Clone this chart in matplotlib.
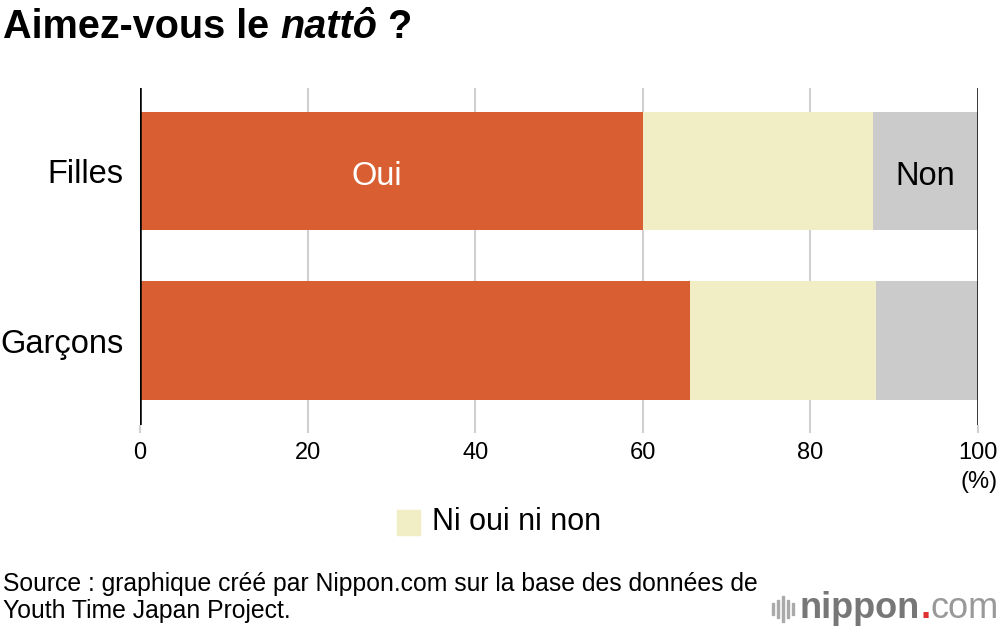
import numpy as np
import matplotlib.pyplot as plt
from matplotlib.patches import Rectangle

plt.rcParams['font.family'] = ['Liberation Sans', 'DejaVu Sans']

# data (percent)
groups = ['Garçons', 'Filles']
oui = [65.6, 60.0]
neutre = [22.2, 27.5]
non = [12.2, 12.5]
ticks = [0, 20, 40, 60, 80, 100]

c_oui = '#d95f32'
c_neutre = '#f1eec5'
c_non = '#cbcbcb'

fig = plt.figure(figsize=(10, 6.32), dpi=100)
ax = fig.add_axes([0.14, 0.327, 0.838, 0.534])

y = np.arange(len(groups))
left2 = np.array(oui) + np.array(neutre)
ax.barh(y, oui, height=0.70, color=c_oui, zorder=2)
ax.barh(y, neutre, left=oui, height=0.70, color=c_neutre, zorder=2)
ax.barh(y, non, left=left2, height=0.70, color=c_non, zorder=2)

ax.set_xlim(0, 100)
ax.set_ylim(-0.5, 1.49)
for t in ticks[1:-1]:
    ax.axvline(t, color='#d0d0d0', linewidth=1.5, zorder=1)
ax.axvline(0, color='black', linewidth=1.8, zorder=3)
ax.axvline(100, color='black', linewidth=1.8, zorder=3)

for s in ax.spines.values():
    s.set_visible(False)
ax.set_xticks(ticks)
ax.set_xticklabels([str(t) for t in ticks], fontsize=17)
ax.tick_params(axis='x', length=6, color='#d0d0d0', width=1.5, pad=6)
for i, tk in enumerate(ax.xaxis.get_major_ticks()):
    if i in (0, len(ticks) - 1):
        tk.tick1line.set_color('black')
ax.set_yticks(y)
ax.set_yticklabels(groups, fontsize=23.5)
ax.tick_params(axis='y', length=0, pad=12)

# segment labels
ax.text(28.2, 0.97, 'Oui', color='white', fontsize=23.5, ha='center', va='center', zorder=4)
ax.text(left2[1] + non[1] / 2, 0.97, 'Non', color='black', fontsize=23.5,
        ha='center', va='center', zorder=4)

fig.text(0.998, 1 - 482 / 632, '(%)', fontsize=17, ha='right', va='center')

# title
ty = 1 - 27 / 632
t1 = fig.text(0.003, ty, 'Aimez-vous le ', fontsize=28.5, fontweight='bold',
              ha='left', va='center')
fig.canvas.draw()
bb = t1.get_window_extent()
t2 = fig.text(bb.x1 / fig.bbox.width, ty, 'nattô', fontsize=28.5, fontweight='bold',
              style='italic', ha='left', va='center')
fig.canvas.draw()
bb2 = t2.get_window_extent()
fig.text(bb2.x1 / fig.bbox.width, ty, ' ?', fontsize=28.5,
         fontweight='bold', ha='left', va='center')

# legend
fig.patches.append(Rectangle((397 / 1000, 1 - 535 / 632), 23 / 1000, 25 / 632,
                             transform=fig.transFigure, color=c_neutre))
fig.text(432 / 1000, 1 - 522 / 632, 'Ni oui ni non', fontsize=22,
         ha='left', va='center')

# source
fig.text(0.003, 1 - 584 / 632, 'Source : graphique créé par Nippon.com sur la base des données de',
         fontsize=17.8, ha='left', va='center')
fig.text(0.003, 1 - 611 / 632, 'Youth Time Japan Project.',
         fontsize=17.8, ha='left', va='center')

# logo
for i, h in enumerate([12, 18, 26, 18, 12]):
    fig.patches.append(Rectangle((0.772 + i * 0.005, 1 - (609 + h / 2) / 632),
                                 0.002, h / 632, transform=fig.transFigure,
                                 color='#aaaaaa'))
tl = fig.text(0.800, 1 - 609 / 632, 'nippon', fontsize=26, color='#777777',
              ha='left', va='center', fontweight='bold')
fig.canvas.draw()
b = tl.get_window_extent()
td = fig.text(b.x1 / 1000, 1 - 609 / 632, '.', fontsize=26, color='#e03030',
              ha='left', va='center', fontweight='bold')
fig.canvas.draw()
b = td.get_window_extent()
fig.text(b.x1 / 1000, 1 - 609 / 632, 'com', fontsize=26, color='#999999',
         ha='left', va='center')

fig.savefig('out.png', dpi=100)
